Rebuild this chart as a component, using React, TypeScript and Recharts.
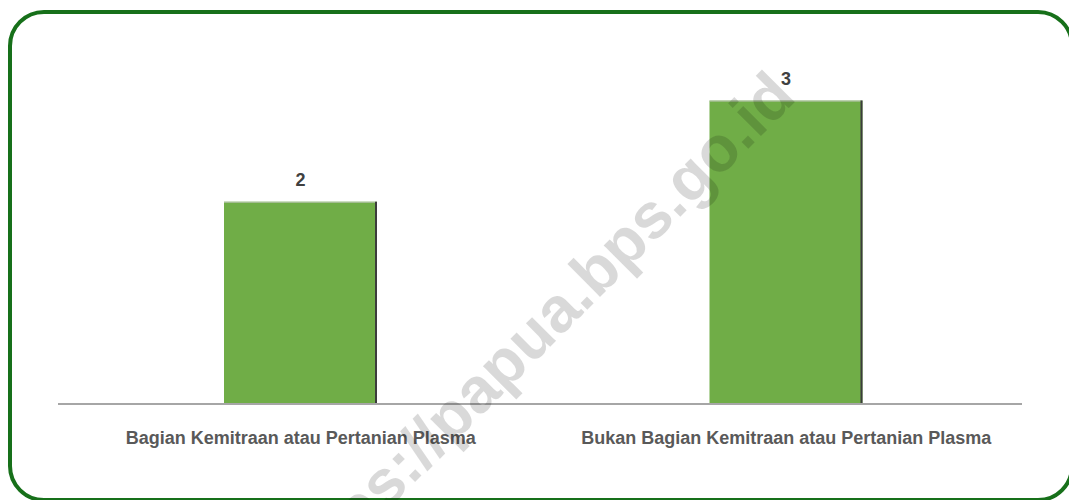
import React from 'react';
import { BarChart, Bar, XAxis, YAxis, LabelList } from 'recharts';

const categories = [
  'Bagian Kemitraan atau Pertanian Plasma',
  'Bukan Bagian Kemitraan atau Pertanian Plasma'
];
const counts = [2, 3];
const watermark = 'https://papua.bps.go.id';

const chartData = categories.map((name, i) => ({ name, value: counts[i] }));

const FONT = '"Liberation Sans", Arial, sans-serif';

// green bar with the thin dark edge on its right side
function ShadedBar(props: any) {
  const { x, y, width, height } = props;
  return (
    <g>
      <rect x={x} y={y} width={width} height={height} fill="#70ad47" />
      <line x1={x} y1={y + 0.5} x2={x + width} y2={y + 0.5} stroke="#b8c4b0" strokeWidth={1} />
      <line x1={x + width - 1} y1={y} x2={x + width - 1} y2={y + height} stroke="#3c3c3c" strokeWidth={2} />
    </g>
  );
}

export default function App() {
  return (
    <div style={{ position: 'absolute', left: 0, top: 0, width: 1069, height: 500, overflow: 'hidden', background: '#fff' }}>
      <div
        style={{
          position: 'absolute',
          left: 8,
          top: 10,
          width: 1066,
          height: 492,
          border: '4px solid #17701a',
          borderRadius: 36,
          boxSizing: 'border-box'
        }}
      />
      <div style={{ position: 'absolute', left: 0, top: 0 }}>
        <BarChart
          width={1069}
          height={500}
          data={chartData}
          margin={{ top: 50, right: 47, bottom: 36, left: 58 }}
        >
          <XAxis
            dataKey="name"
            height={60}
            padding={{ left: 0, right: -7 }}
            axisLine={{ stroke: '#a6a6a6', strokeWidth: 2 }}
            tickLine={false}
            tickSize={0}
            tickMargin={27}
            interval={0}
            tick={{ fill: '#595959', fontSize: 18, fontWeight: 700, fontFamily: FONT }}
          />
          <YAxis hide domain={[0, 3.5]} />
          <Bar dataKey="value" barSize={153} shape={<ShadedBar />} isAnimationActive={false}>
            <LabelList
              dataKey="value"
              position="top"
              offset={16}
              fill="#404040"
              fontSize={18}
              fontWeight={700}
              fontFamily={FONT}
            />
          </Bar>
        </BarChart>
      </div>
      <svg width={1069} height={500} style={{ position: 'absolute', left: 0, top: 0, pointerEvents: 'none' }}>
        <text
          x={798}
          y={99}
          textAnchor="end"
          transform="rotate(-45 798 99)"
          fontFamily={FONT}
          fontWeight={700}
          fontSize={64}
          fill="#000"
          fillOpacity={0.15}
        >
          {watermark}
        </text>
      </svg>
    </div>
  );
}
